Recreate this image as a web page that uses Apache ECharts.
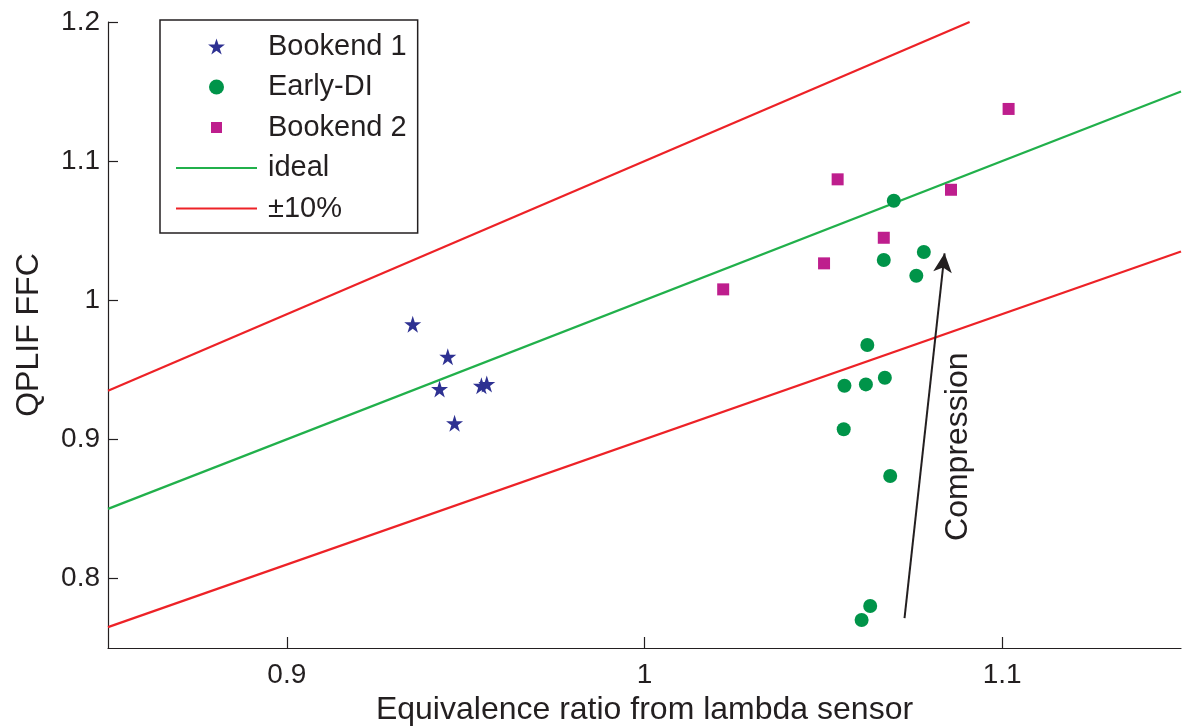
<!DOCTYPE html>
<html>
<head>
<meta charset="utf-8">
<script src="https://cdn.jsdelivr.net/npm/echarts@6/dist/echarts.min.js"></script>
<style>
html,body{margin:0;padding:0;background:#fff;}
#chart{width:1182px;height:727px;}
</style>
</head>
<body>
<div id="chart"></div>
<script>
// ---- data ----
const bookend1 = [[0.9352,0.9827],[0.9450,0.9594],[0.9427,0.9362],[0.9469,0.9115],[0.9544,0.9385],[0.9559,0.9398]];
const earlyDI = [[1.0697,1.0715],[1.0669,1.0289],[1.0781,1.0347],[1.0760,1.0176],[1.0623,0.9678],[1.0559,0.9385],
                 [1.0619,0.9395],[1.0672,0.9443],[1.0557,0.9072],[1.0687,0.8736],[1.0631,0.7802],[1.0607,0.7701]];
const bookend2 = [[1.0540,1.0869],[1.0857,1.0794],[1.0669,1.0449],[1.0502,1.0265],[1.0220,1.0078],[1.1018,1.1375]];
const idealLine = [[0.85,0.85],[1.15,1.15]];
const upperLine = [[0.85,0.935],[1.0909,1.2]];
const lowerLine = [[0.85,0.765],[1.15,1.035]];
const arrowStart = [1.0727,0.7715];
const arrowEnd = [1.0839,1.0337];
const compressionLabelPos = [1.0876,0.8947];
const xTicks = [0.9,1,1.1];
const yTicks = [0.8,0.9,1,1.1,1.2];
const xRange = [0.85,1.15];
const yRange = [0.75,1.2];

const TXT = '#231f20';
const FONT = '"Liberation Sans", Arial, Helvetica, sans-serif';
const starPath = 'path://M10,0 L12.245,6.91 L19.511,6.91 L13.633,11.18 L15.878,18.09 L10,13.82 L4.122,18.09 L6.367,11.18 L0.489,6.91 L7.755,6.91 Z';
const circleLegend = 'path://M0,0 M16,16 M15.5,8 A7.5,7.5 0 1 1 0.5,8 A7.5,7.5 0 1 1 15.5,8 Z';
const squareLegend = 'path://M0,0 M16,16 M2.5,2.5 L13.5,2.5 L13.5,13.5 L2.5,13.5 Z';
const lineLegend = 'path://M0,0 M81,16 M0,7 L81,7 L81,9 L0,9 Z';

const chart = echarts.init(document.getElementById('chart'), null, {renderer:'canvas'});
chart.setOption({
  animation:false,
  backgroundColor:'#fff',
  textStyle:{fontFamily:FONT,color:TXT},
  grid:{left:108,right:1,top:22,bottom:79,containLabel:false,outerBoundsMode:'none'},
  xAxis:{
    type:'value',min:xRange[0],max:xRange[1],
    name:'Equivalence ratio from lambda sensor',nameLocation:'middle',nameGap:46,
    nameTextStyle:{fontSize:32,color:TXT,fontFamily:FONT},
    axisLine:{lineStyle:{color:TXT,width:1.2}},
    axisTick:{inside:true,length:11,customValues:xTicks,lineStyle:{color:TXT,width:1.2}},
    axisLabel:{customValues:xTicks,fontSize:28,color:TXT,margin:13,fontFamily:FONT},
    splitLine:{show:false}
  },
  yAxis:{
    type:'value',min:yRange[0],max:yRange[1],
    name:'QPLIF FFC',nameLocation:'middle',nameGap:63,nameRotate:90,
    nameTextStyle:{fontSize:32,color:TXT,fontFamily:FONT},
    axisLine:{lineStyle:{color:TXT,width:1.2}},
    axisTick:{inside:true,length:10,customValues:yTicks,lineStyle:{color:TXT,width:1.2}},
    axisLabel:{customValues:yTicks,fontSize:28,color:TXT,margin:8,fontFamily:FONT},
    splitLine:{show:false}
  },
  legend:{
    left:160,top:20,orient:'vertical',
    selectedMode:false,
    itemWidth:81,itemHeight:16,itemGap:11.5,
    padding:[12,11,10,16],
    borderColor:TXT,borderWidth:1.5,backgroundColor:'#fff',
    textStyle:{fontSize:29,lineHeight:28,color:TXT,fontFamily:FONT,padding:[0,0,0,6]},
    data:[
      {name:'Bookend 1',icon:starPath},
      {name:'Early-DI',icon:circleLegend},
      {name:'Bookend 2',icon:squareLegend},
      {name:'ideal',icon:lineLegend},
      {name:'±10%',icon:lineLegend}
    ]
  },
  series:[
    {name:'ideal',type:'line',data:idealLine,showSymbol:false,symbol:'none',
     lineStyle:{color:'#21b04b',width:2.2},itemStyle:{color:'#21b04b'},z:2},
    {name:'±10%',type:'line',data:upperLine,showSymbol:false,symbol:'none',
     lineStyle:{color:'#ed2227',width:2.2},itemStyle:{color:'#ed2227'},z:2},
    {name:'±10%',type:'line',data:lowerLine,showSymbol:false,symbol:'none',
     lineStyle:{color:'#ed2227',width:2.2},itemStyle:{color:'#ed2227'},z:2},
    {name:'Bookend 1',type:'scatter',data:bookend1,symbol:starPath,symbolSize:17,
     itemStyle:{color:'#2e3192',opacity:1},z:4},
    {name:'Early-DI',type:'scatter',data:earlyDI,symbol:'circle',symbolSize:14,
     itemStyle:{color:'#009449',opacity:1},z:4},
    {name:'Bookend 2',type:'scatter',data:bookend2,symbol:'rect',symbolSize:12,
     itemStyle:{color:'#be1e8d',opacity:1},z:4},
    {name:'Compression',type:'scatter',data:[compressionLabelPos],symbolSize:0,silent:true,
     itemStyle:{opacity:1,color:TXT},
     label:{show:true,position:'inside',rotate:90,formatter:'Compression',fontSize:32,color:TXT,fontFamily:FONT},
     markLine:{
       silent:true,symbol:['none','arrow'],symbolSize:[14,19],
       label:{show:false},
       lineStyle:{color:TXT,width:2,type:'solid',opacity:1},
       emphasis:{disabled:true},
       data:[[{coord:arrowStart},{coord:arrowEnd}]]
     },z:3}
  ]
});
</script>
</body>
</html>
